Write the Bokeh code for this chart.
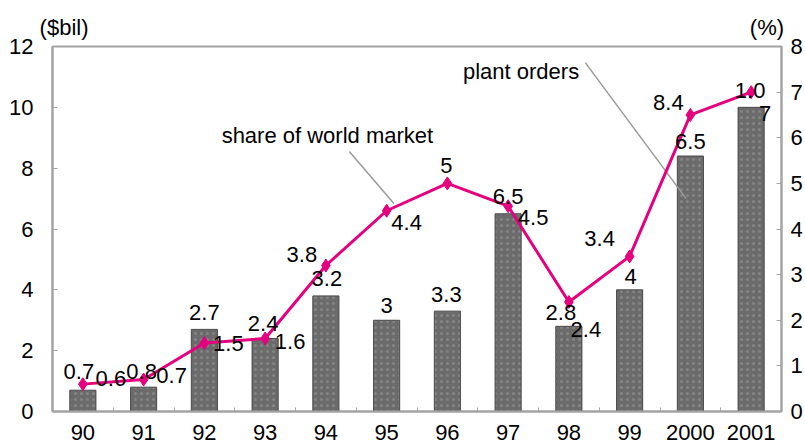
from bokeh.plotting import figure
from bokeh.models import (ColumnDataSource, Range1d, LinearAxis, FixedTicker, Label)
from bokeh.core.properties import value
from bokeh.embed import file_html
from bokeh.resources import INLINE
import numpy as np

# ---------------- data ----------------
years = ["90", "91", "92", "93", "94", "95", "96", "97", "98", "99", "2000", "2001"]
plant_orders = [0.7, 0.8, 2.7, 2.4, 3.8, 3.0, 3.3, 6.5, 2.8, 4.0, 8.4, 10.0]      # $bil
world_share = [0.6, 0.7, 1.5, 1.6, 3.2, 4.4, 5.0, 4.5, 2.4, 3.4, 6.5, 7.0]       # %
bar_labels = ["0.7", "0.8", "2.7", "2.4", "3.8", "3", "3.3", "6.5", "2.8", "4", "8.4", "1.0"]
share_labels = ["0.6", "0.7", "1.5", "1.6", "3.2", "4.4", "5", "4.5", "2.4", "3.4", "6.5", "7"]
left_ticks = [0, 2, 4, 6, 8, 10, 12]
right_ticks = [0, 1, 2, 3, 4, 5, 6, 7, 8]
unit_titles = ["($bil)", "(%)"]

# ---------------- label placement (screen px offsets) ----------------
bar_dx = [-4, -2, 0, -2, -24, 0, -1, 0, -8, 1, -22, -1]
bar_dy = [-19, -16, -17, -15, -41, -15, -17, -17, -14, -13, -54, -17]
line_dx = [28, 28, 24, 25, 1, 20, -1, 25, 17, -30, 0, 14]
line_dy = [-6, -4, 0, 3, 13, 12, -18, 11, 27, -18, 27, 21]
unit_title_x = [0.19, 11.76]   # horizontal anchor of the unit titles (x-axis units)

FONT = "Liberation Sans"
FS = "22px"
MAGENTA = "#e4007f"
GREY = "#a3a3a3"

n = len(years)
xpos = np.arange(n) + 0.5

p = figure(width=805, height=447, output_backend="svg", toolbar_location=None,
           x_range=Range1d(0, n), y_range=Range1d(0, 12),
           min_border_left=52, min_border_right=21, min_border_top=46, min_border_bottom=36)
p.extra_y_ranges = {"pct": Range1d(0, 8)}
p.grid.visible = False
p.background_fill_color = "white"
p.border_fill_color = "white"
p.outline_line_color = GREY
p.outline_line_width = 2

# x axis
xa = p.xaxis[0]
xa.ticker = FixedTicker(ticks=list(xpos), minor_ticks=list(range(1, n)))
xa.major_label_overrides = {float(x): y for x, y in zip(xpos, years)}
xa.major_tick_in = 0
xa.major_tick_out = 0
xa.minor_tick_in = 4
xa.minor_tick_out = 0
xa.minor_tick_line_color = GREY
xa.axis_line_color = GREY
xa.axis_line_width = 2
xa.major_label_standoff = 13
xa.major_label_text_font = FONT
xa.major_label_text_font_size = FS
xa.major_label_text_color = "black"

# left axis
ya = p.yaxis[0]
ya.ticker = FixedTicker(ticks=left_ticks)
ya.major_tick_in = 5
ya.major_tick_out = 0
ya.minor_tick_in = 0
ya.minor_tick_out = 0
ya.major_tick_line_color = GREY
ya.axis_line_color = GREY
ya.axis_line_width = 2
ya.major_label_standoff = 19
ya.major_label_text_font = FONT
ya.major_label_text_font_size = FS
ya.major_label_text_color = "black"

# right axis
ra = LinearAxis(y_range_name="pct", ticker=FixedTicker(ticks=right_ticks))
ra.major_tick_in = 5
ra.major_tick_out = 0
ra.minor_tick_in = 0
ra.minor_tick_out = 0
ra.major_tick_line_color = GREY
ra.axis_line_color = GREY
ra.axis_line_width = 2
ra.major_label_standoff = 9
ra.major_label_text_font = FONT
ra.major_label_text_font_size = FS
ra.major_label_text_color = "black"
p.add_layout(ra, "right")

# unit titles on top, via an invisible axis
ta = LinearAxis(ticker=FixedTicker(ticks=unit_title_x))
ta.major_label_overrides = {float(x): t for x, t in zip(unit_title_x, unit_titles)}
ta.axis_line_color = None
ta.major_tick_line_color = None
ta.minor_tick_line_color = None
ta.major_tick_in = 0
ta.major_tick_out = 0
ta.major_label_standoff = 7
ta.major_label_text_font = FONT
ta.major_label_text_font_size = FS
ta.major_label_text_color = "black"
p.add_layout(ta, "above")

src = ColumnDataSource(dict(x=xpos, orders=plant_orders, share=world_share,
                            blab=bar_labels, slab=share_labels,
                            bdx=bar_dx, bdy=bar_dy, ldx=line_dx, ldy=line_dy))

# bars
p.vbar(x="x", top="orders", width=0.43, bottom=0, source=src,
       fill_color="#6b6b6b", line_color="#4a4a4a", line_width=1,
       hatch_pattern="dot", hatch_color="#858585", hatch_scale=6, hatch_weight=1)

# leader lines for annotations
lead_x0 = [4.885, 8.77]
lead_y0 = [8.55, 11.47]
lead_x1 = [5.62, 10.43]
lead_y1 = [6.84, 7.00]
p.segment(x0=lead_x0, y0=lead_y0, x1=lead_x1, y1=lead_y1, line_color="#9a9a9a", line_width=1.5)

# share line
p.line(x="x", y="share", source=src, y_range_name="pct", line_color=MAGENTA, line_width=3)
p.scatter(x="x", y="share", source=src, y_range_name="pct", marker="diamond",
          size=13, fill_color=MAGENTA, line_color=MAGENTA)

# value labels
p.text(x="x", y="orders", text="blab", source=src, x_offset="bdx", y_offset="bdy",
       text_align="center", text_baseline="middle", text_font=value(FONT),
       text_font_size=value(FS), text_color="black")
p.text(x="x", y="share", text="slab", source=src, y_range_name="pct",
       x_offset="ldx", y_offset="ldy",
       text_align="center", text_baseline="middle", text_font=value(FONT),
       text_font_size=value(FS), text_color="black")

# series annotations
p.add_layout(Label(x=4.525, y=9.07, text="share of world market", text_align="center",
                   text_baseline="alphabetic", text_font=FONT, text_font_size=FS,
                   text_color="black"))
p.add_layout(Label(x=7.713, y=11.18, text="plant orders", text_align="center",
                   text_baseline="alphabetic", text_font=FONT, text_font_size=FS,
                   text_color="black"))

open("out.html", "w").write(file_html(p, INLINE))
